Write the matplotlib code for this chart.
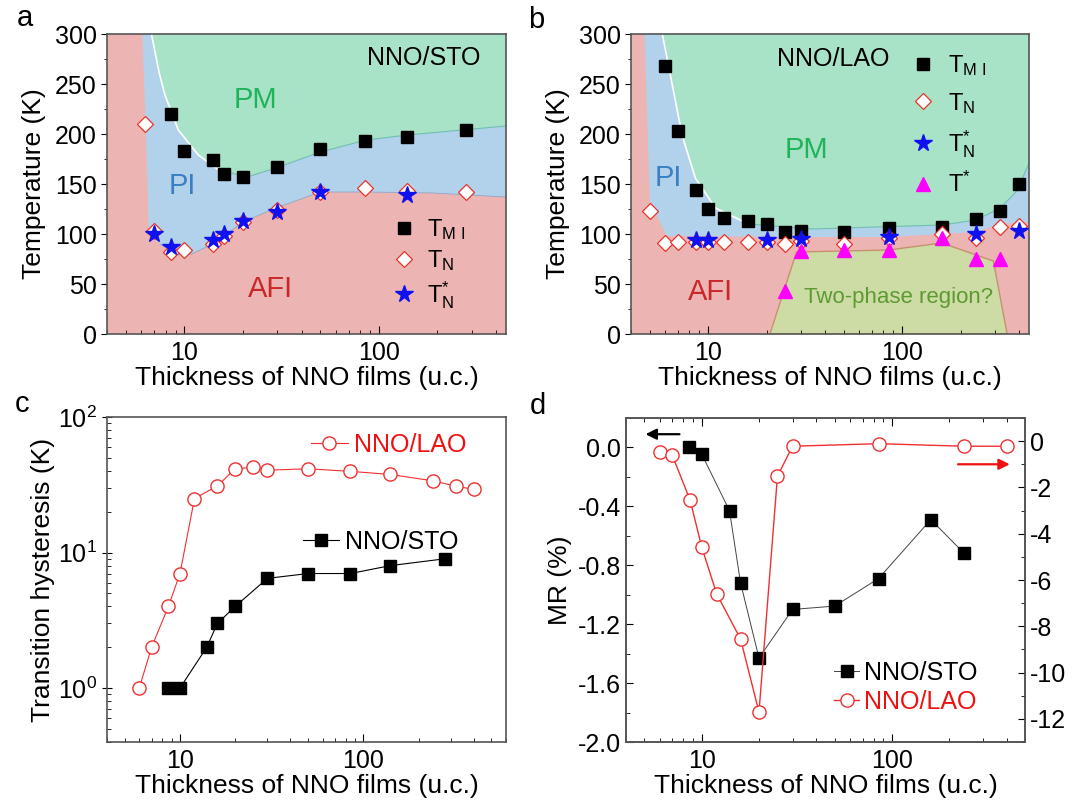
import numpy as np
import matplotlib
matplotlib.use('Agg')
import matplotlib.pyplot as plt
from matplotlib.ticker import FixedLocator, NullFormatter, MultipleLocator, FormatStrFormatter, LogLocator
from matplotlib.lines import Line2D

plt.rcParams['font.family'] = ['Liberation Sans', 'DejaVu Sans']
plt.rcParams['mathtext.fontset'] = 'custom'
plt.rcParams['mathtext.rm'] = 'Liberation Sans'
plt.rcParams['mathtext.it'] = 'Liberation Sans:italic'
plt.rcParams['mathtext.bf'] = 'Liberation Sans:bold'
plt.rcParams['axes.unicode_minus'] = False

# ---------------- Panel a (NNO/STO phase diagram) ----------------
a_tmi_t = [8.5, 10, 14, 16, 20, 30, 50, 85, 140, 280]
a_tmi_T = [220, 183, 174, 160, 157, 167, 185, 193, 197, 204]
a_tn_t = [6.3, 7, 8.5, 10, 14, 16, 20, 30, 50, 85, 140, 280]
a_tn_T = [210, 103, 82, 84, 90, 98, 112, 124, 142, 146, 143, 142]
a_tns_t = [7, 8.5, 14, 16, 20, 30, 50, 140]
a_tns_T = [100, 87, 94, 100, 113, 122, 142, 139]
# phase boundaries
a_pm_t = [6.77, 7.4, 7.94, 9.3, 11.8, 15, 21, 29.5, 50, 86, 140, 450]
a_pm_T = [300, 262, 239, 204, 179, 164, 157, 166, 182, 194, 199, 208]
a_pi_t = [6.08, 6.35, 6.55, 7.5, 9.1, 10.9, 14, 20, 29.5, 50, 86, 190, 450]
a_pi_T = [300, 200, 106, 90, 79, 80, 90, 112, 126, 142, 142, 141, 137]

# ---------------- Panel b (NNO/LAO phase diagram) ----------------
b_tmi_t = [6, 7, 8.65, 10, 12, 16, 20, 25, 30, 50, 85, 160, 240, 320, 400]
b_tmi_T = [268, 203, 144, 125, 116, 113, 110, 102, 103, 102, 106, 107, 115, 123, 150]
b_tn_t = [5, 6, 7, 8.65, 10, 12, 16, 20, 25, 30, 50, 85, 160, 240, 320, 400]
b_tn_T = [123, 91, 92, 92, 92, 92, 92, 92, 90, 93, 90, 96, 100, 96, 107, 108]
b_tns_t = [8.65, 10, 20, 30, 85, 240, 400]
b_tns_T = [94, 94, 94, 95, 97, 100, 103]
b_ts_t = [25, 30, 50, 85, 160, 240, 320]
b_ts_T = [43, 83, 84, 84, 96, 75, 75]
b_pm_t = [5.8, 7.33, 8.58, 10.9, 16.1, 35, 73, 160, 240, 320, 390, 450]
b_pm_T = [300, 199, 156, 126, 110, 105, 107, 109, 114, 126, 143, 171]
b_pi_t = [4.7, 5.0, 6.1, 30, 85, 160, 240, 320, 450]
b_pi_T = [300, 134, 98, 97, 97, 100, 102, 110, 112]
b_tp_t = [20.8, 28.5, 85, 160, 295, 347]
b_tp_T = [0, 82, 84, 91, 73, 0]

# ---------------- Panel c (transition hysteresis) ----------------
c_lao_t = [6, 7, 8.65, 10, 12, 16, 20, 25, 30, 50, 85, 140, 240, 320, 400]
c_lao_h = [1.0, 2.0, 4.0, 7.0, 25, 31, 41.5, 42.5, 40.5, 41.5, 39.7, 37.7, 33.8, 30.9, 29.2]
c_sto_t = [8.65, 10, 14, 16, 20, 30, 50, 85, 140, 280]
c_sto_h = [1.0, 1.0, 2.0, 3.0, 4.0, 6.45, 7.0, 7.0, 8.0, 9.0]

# ---------------- Panel d (magnetoresistance) ----------------
d_sto_t = [8.6, 10, 14, 16, 20, 30, 50, 85, 160, 240]
d_sto_mr = [0.0, -0.045, -0.43, -0.92, -1.43, -1.10, -1.077, -0.89, -0.49, -0.72]
d_lao_t = [6, 7, 8.7, 10, 12, 16, 20, 25, 30, 85, 240, 400]
d_lao_mr = [-0.45, -0.61, -2.56, -4.58, -6.61, -8.55, -11.71, -1.52, -0.22, -0.11, -0.22, -0.22]

# colours
C_AFI = '#ECB5B3'
C_PI = '#B2D2EC'
C_PM = '#A9E3C7'
C_TP = '#CCDCA4'
TXT_PM = '#1FB35A'
TXT_PI = '#3A7FC2'
TXT_AFI = '#C8282A'
TXT_TP = '#5E9A32'

TICK_FS = 18
LAB_FS = 19

W, H = 1072, 800
fig = plt.figure(figsize=(W / 100, H / 100), dpi=100)


def px_axes(l, r, t, b):
    return fig.add_axes([l / W, 1 - b / H, (r - l) / W, (b - t) / H])


def log_xaxis(ax, xmax):
    ax.set_xscale('log')
    ax.set_xlim(4, xmax)
    ax.xaxis.set_major_locator(FixedLocator([10, 100]))
    ax.xaxis.set_major_formatter(FormatStrFormatter('%d'))
    ax.xaxis.set_minor_locator(LogLocator(base=10, subs=np.arange(2, 10)))
    ax.xaxis.set_minor_formatter(NullFormatter())
    ax.set_xlabel('Thickness of NNO films (u.c.)', fontsize=LAB_FS, labelpad=1)
    ax.tick_params(axis='x', which='major', direction='in', length=6, labelsize=TICK_FS, pad=5)
    ax.tick_params(axis='x', which='minor', direction='in', length=3)


def phase_axis(ax):
    ax.set_ylim(0, 300)
    ax.yaxis.set_major_locator(MultipleLocator(50))
    ax.yaxis.set_minor_locator(MultipleLocator(25))
    ax.tick_params(axis='y', which='major', direction='out', length=4, labelsize=TICK_FS)
    ax.tick_params(axis='y', which='minor', direction='out', length=2.5)
    ax.set_ylabel('Temperature (K)', fontsize=LAB_FS, labelpad=6)
    ax.set_facecolor(C_AFI)
    for s in ax.spines.values():
        s.set_color('#555555')
        s.set_linewidth(1.2)


# ---------------- Panel a ----------------
axa = px_axes(107, 506, 34, 334)
log_xaxis(axa, 450)
phase_axis(axa)
axa.fill(a_pi_t + [450, 6.08], a_pi_T + [300, 300], color=C_PI, lw=0, zorder=0.5)
axa.fill(a_pm_t + [450], a_pm_T + [300], facecolor=C_PM, edgecolor='none', zorder=0.6)
axa.plot(a_pm_t[:6], a_pm_T[:6], color='white', lw=1.2, zorder=0.7)
axa.plot(a_pm_t[5:], a_pm_T[5:], color='#6FC0B0', lw=0.8, zorder=0.7)
axa.plot(a_pi_t[3:], a_pi_T[3:], color='#8FA6C8', lw=0.6, zorder=0.7)

axa.plot(a_tmi_t, a_tmi_T, 's', color='black', ms=8, ls='none', zorder=3, label=r'T$_\mathrm{M\ I}$')
axa.plot(a_tn_t, a_tn_T, 'D', mfc='white', mec='#E8332A', mew=0.9, ms=8, ls='none', zorder=3,
         label=r'T$_\mathrm{N}$')
axa.plot(a_tns_t, a_tns_T, '*', color='#1010F0', ms=13, ls='none', zorder=4, label=r'T$_\mathrm{N}^{*}$')
leg = axa.legend(loc='upper left', bbox_to_anchor=(0.715, 0.39), frameon=False, fontsize=17,
                 handlelength=1.0, handletextpad=0.45, labelspacing=0.26, borderpad=0, borderaxespad=0)

axa.text(169, 276, 'NNO/STO', fontsize=18, ha='center', va='center')
axa.text(23.3, 234, 'PM', fontsize=21, color=TXT_PM, ha='center', va='center')
axa.text(9.8, 148, 'PI', fontsize=21, color=TXT_PI, ha='center', va='center')
axa.text(27.6, 45, 'AFI', fontsize=21, color=TXT_AFI, ha='center', va='center')

# ---------------- Panel b ----------------
axb = px_axes(631, 1029, 34, 334)
log_xaxis(axb, 450)
phase_axis(axb)
axb.fill(b_pi_t + [450], b_pi_T + [300], color=C_PI, lw=0, zorder=0.5)
axb.fill(b_pm_t + [450], b_pm_T + [300], facecolor=C_PM, edgecolor='none', zorder=0.6)
axb.plot(b_pm_t[:5], b_pm_T[:5], color='white', lw=1.2, zorder=0.7)
axb.plot(b_pm_t[4:], b_pm_T[4:], color='#6FC0B0', lw=0.8, zorder=0.7)
axb.fill(b_tp_t, b_tp_T, facecolor=C_TP, edgecolor='#C9906E', lw=1.0, zorder=0.8)

axb.plot(b_tmi_t, b_tmi_T, 's', color='black', ms=8, ls='none', zorder=3, label=r'T$_\mathrm{M\ I}$')
axb.plot(b_tn_t, b_tn_T, 'D', mfc='white', mec='#E8332A', mew=0.9, ms=8, ls='none', zorder=3,
         label=r'T$_\mathrm{N}$')
axb.plot(b_tns_t, b_tns_T, '*', color='#1010F0', ms=13, ls='none', zorder=4, label=r'T$_\mathrm{N}^{*}$')
axb.plot(b_ts_t, b_ts_T, '^', color='#FF00FF', ms=10, ls='none', zorder=4, label=r'T$^{*}$')
axb.legend(loc='upper left', bbox_to_anchor=(0.705, 0.935), frameon=False, fontsize=17,
           handlelength=1.0, handletextpad=0.55, labelspacing=0.52, borderpad=0, borderaxespad=0)

axb.text(44, 275, 'NNO/LAO', fontsize=18, ha='center', va='center')
axb.text(32, 184, 'PM', fontsize=21, color=TXT_PM, ha='center', va='center')
axb.text(6.2, 156, 'PI', fontsize=21, color=TXT_PI, ha='center', va='center')
axb.text(10.3, 42, 'AFI', fontsize=21, color=TXT_AFI, ha='center', va='center')
axb.text(96, 37, 'Two-phase region?', fontsize=16, color=TXT_TP, ha='center', va='center', zorder=2)

# ---------------- Panel c ----------------
axc = px_axes(107, 506, 417, 742)
log_xaxis(axc, 600)
axc.set_yscale('log')
axc.set_ylim(0.4, 100)
axc.tick_params(axis='y', which='major', direction='inout', length=7, labelsize=TICK_FS)
axc.tick_params(axis='y', which='minor', direction='in', length=3)
axc.set_ylabel('Transition hysteresis (K)', fontsize=LAB_FS, labelpad=2)
for s in axc.spines.values():
    s.set_color('#555555')
    s.set_linewidth(1.2)
l_lao, = axc.plot(c_lao_t, c_lao_h, '-o', color='#F03030', lw=0.8, ms=9.5, mfc='white',
                  mec='#F03030', mew=1.0, label='NNO/LAO')
l_sto, = axc.plot(c_sto_t, c_sto_h, '-s', color='black', lw=0.8, ms=8.5, label='NNO/STO')
lg1 = axc.legend(handles=[l_lao], loc='center left', bbox_to_anchor=(0.512, 0.914), frameon=False,
                 fontsize=18, handlelength=1.45, handletextpad=0.25, borderpad=0, borderaxespad=0)
lg1.get_texts()[0].set_color('#F01010')
axc.add_artist(lg1)
lg2 = axc.legend(handles=[l_sto], loc='center left', bbox_to_anchor=(0.49, 0.615), frameon=False,
                 fontsize=18, handlelength=1.45, handletextpad=0.25, borderpad=0, borderaxespad=0)

# ---------------- Panel d ----------------
axd = px_axes(626, 1025, 418, 742)
log_xaxis(axd, 500)
axd.tick_params(axis='x', which='both', top=True)
axd.set_ylim(-2.0, 0.2)
axd.yaxis.set_major_locator(MultipleLocator(0.4))
axd.yaxis.set_minor_locator(MultipleLocator(0.2))
axd.yaxis.set_major_formatter(FormatStrFormatter('%.1f'))
axd.tick_params(axis='y', which='major', direction='in', length=5, labelsize=TICK_FS)
axd.tick_params(axis='y', which='minor', direction='in', length=3)
axd.set_ylabel('MR (%)', fontsize=LAB_FS, labelpad=4)
axd2 = axd.twinx()
axd2.set_ylim(-13, 1)
axd2.yaxis.set_major_locator(MultipleLocator(2))
axd2.yaxis.set_minor_locator(MultipleLocator(1))
axd2.yaxis.set_major_formatter(FormatStrFormatter('%d'))
axd2.tick_params(axis='y', which='major', direction='in', length=5, labelsize=TICK_FS)
axd2.tick_params(axis='y', which='minor', direction='in', length=3)
for a in (axd, axd2):
    for s in a.spines.values():
        s.set_color('#555555')
        s.set_linewidth(1.2)
d_l_sto, = axd.plot(d_sto_t, d_sto_mr, '-s', color='#444444', mfc='black', mec='black', lw=0.7,
                    ms=8.5, label='NNO/STO', zorder=3)
d_l_lao, = axd2.plot(d_lao_t, d_lao_mr, '-o', color='#F03030', lw=1.0, ms=9.5, mfc='white',
                     mec='#F03030', mew=1.0, label='NNO/LAO')
axd.annotate('', xy=(4.9, 0.09), xytext=(7.9, 0.09),
             arrowprops=dict(arrowstyle='-|>', color='black', lw=1.6, mutation_scale=16))
axd2.annotate('', xy=(430, -1.0), xytext=(215, -1.0),
              arrowprops=dict(arrowstyle='-|>', color='#F01010', lw=1.6, mutation_scale=16))
lgd = axd2.legend(handles=[d_l_sto, d_l_lao], loc='upper left', bbox_to_anchor=(0.522, 0.25),
                  frameon=False, fontsize=18, handlelength=1.0, handletextpad=0.2,
                  labelspacing=0.2, borderpad=0, borderaxespad=0)
lgd.get_texts()[1].set_color('#F01010')

# panel letters
fig.text(25 / W, 1 - 18 / H, 'a', fontsize=21, ha='center', va='center')
fig.text(536 / W, 1 - 20 / H, 'b', fontsize=21, ha='center', va='center')
fig.text(22 / W, 1 - 404 / H, 'c', fontsize=21, ha='center', va='center')
fig.text(538 / W, 1 - 406 / H, 'd', fontsize=21, ha='center', va='center')

fig.savefig('out.png', dpi=100)
